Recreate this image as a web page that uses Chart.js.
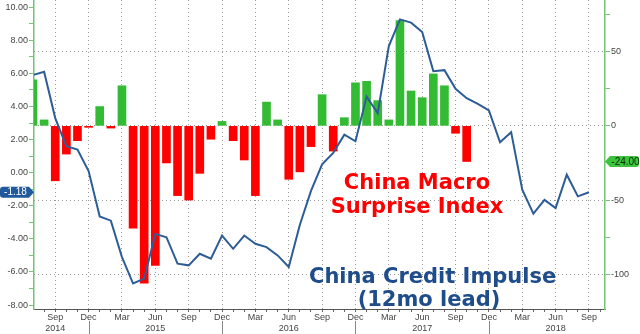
<!DOCTYPE html>
<html lang="en">
<head>
<meta charset="UTF-8">
<title>China Credit Impulse vs China Macro Surprise Index</title>
<style>
  body { margin: 0; background: #fff; }
  #wrap { position: relative; width: 640px; height: 334px; }
  .note {
    position: absolute;
    font-family: "DejaVu Sans", sans-serif;
    font-weight: bold;
    font-size: 21px;
    text-align: center;
    white-space: nowrap;
    pointer-events: none;
  }
  .macro { color: #ff0000; left: 317px; top: 170px; width: 200px; line-height: 24px; }
  .credit { color: #1f4c8a; left: 309px; top: 265px; width: 240px; line-height: 23px; }
</style>
</head>
<body>
<div id="wrap">
  <canvas id="chart"></canvas>
  <div class="note macro">China Macro<br>Surprise Index</div>
  <div class="note credit">China Credit Impulse<br>(12mo lead)</div>
</div>

<script src="https://cdn.jsdelivr.net/npm/chart.js"></script>
<script>
// monthly axis, Jul 2014 .. Oct 2018
const months = [
  "Jul 2014", "Aug 2014", "Sep 2014", "Oct 2014", "Nov 2014", "Dec 2014",
  "Jan 2015", "Feb 2015", "Mar 2015", "Apr 2015", "May 2015", "Jun 2015",
  "Jul 2015", "Aug 2015", "Sep 2015", "Oct 2015", "Nov 2015", "Dec 2015",
  "Jan 2016", "Feb 2016", "Mar 2016", "Apr 2016", "May 2016", "Jun 2016",
  "Jul 2016", "Aug 2016", "Sep 2016", "Oct 2016", "Nov 2016", "Dec 2016",
  "Jan 2017", "Feb 2017", "Mar 2017", "Apr 2017", "May 2017", "Jun 2017",
  "Jul 2017", "Aug 2017", "Sep 2017", "Oct 2017", "Nov 2017", "Dec 2017",
  "Jan 2018", "Feb 2018", "Mar 2018", "Apr 2018", "May 2018", "Jun 2018",
  "Jul 2018", "Aug 2018", "Sep 2018", "Oct 2018"
];

// China Macro Surprise Index (right axis), Jul 2014 .. Oct 2017
const surpriseIndex = [
  31, 4, -37, -19, -10, -1,
  13, -1.5, 27, -69, -106, -94,
  -25, -47, -50, -32, -9, 3,
  -10, -23, -47, 16, 4, -36,
  -31, -14, 21, -17, 5.5, 29,
  30, 17, 4, 71, 23.5, 19,
  35, 27, -5, -24
];

// China Credit Impulse, 12mo lead (left axis), Jul 2014 .. Sep 2018
const creditImpulse = [
  5.9, 6.1, 3.3, 1.6, 1.4, 0.1,
  -2.65, -2.9, -5.1, -6.7, -6.4, -3.7,
  -3.9, -5.5, -5.6, -4.9, -5.2, -3.8,
  -4.6, -3.8, -4.3, -4.5, -5.0, -5.7,
  -3.15, -1.1, 0.5, 1.2, 2.3, 1.9,
  4.6, 3.6, 7.65, 9.27, 9.07, 8.5,
  6.14, 6.2, 5.07, 4.5, 4.16, 3.76,
  1.84, 2.45, -1.03, -2.48, -1.64, -2.14,
  -0.12, -1.43, -1.18
];

const leftTicks = [-8, -6, -4, -2, 0, 2, 4, 6, 8, 10];
const leftMinor = [-7, -5, -3, -1, 1, 3, 5, 7, 9];
const rightTicks = [-100, -50, 0, 50];
const rightMinor = [-75, -25, 25, 75];
const quarterMonths = ["Sep", "Dec", "Mar", "Jun"];
const yearLabels = {
  "Sep 2014": "2014", "Jun 2015": "2015", "Jun 2016": "2016",
  "Jun 2017": "2017", "Jun 2018": "2018"
};

const GREEN = "#33bb33";
const RED = "#ff0000";
const LINE = "#2d5d96";
const AXIS_GREEN = "#74c474";
const GRID = "#9a9a9a";
const TICK_FONT = { family: "Liberation Sans", size: 9, lineHeight: 1.2 };

function isQuarter(i) {
  const m = months[i];
  return m !== undefined && quarterMonths.includes(m.slice(0, 3));
}

// little price-tag boxes for the last values
function drawTag(ctx, side, y, text, bg, fg, area) {
  const h = 11, r = 3;
  let x0, x1, tip;
  if (side === "left") { x0 = 0; x1 = area.left - 5; tip = area.left; }
  else { x0 = area.right + 5; x1 = 639; tip = area.right; }
  ctx.fillStyle = bg;
  ctx.beginPath();
  if (side === "left") {
    ctx.moveTo(x0 + r, y - h / 2);
    ctx.lineTo(x1, y - h / 2);
    ctx.lineTo(tip, y);
    ctx.lineTo(x1, y + h / 2);
    ctx.lineTo(x0 + r, y + h / 2);
    ctx.arcTo(x0, y + h / 2, x0, y, r);
    ctx.arcTo(x0, y - h / 2, x0 + r, y - h / 2, r);
  } else {
    ctx.moveTo(tip, y);
    ctx.lineTo(x0, y - h / 2);
    ctx.lineTo(x1 - r, y - h / 2);
    ctx.arcTo(x1, y - h / 2, x1, y, r);
    ctx.arcTo(x1, y + h / 2, x1 - r, y + h / 2, r);
    ctx.lineTo(x0, y + h / 2);
  }
  ctx.closePath();
  ctx.fill();
  ctx.fillStyle = fg;
  ctx.font = "10px 'Liberation Sans'";
  ctx.textAlign = "center";
  ctx.textBaseline = "middle";
  ctx.fillText(text, (x0 + x1) / 2 + 1, y + 0.5);
}

const extras = {
  id: "extras",
  afterDraw(chart) {
    const ctx = chart.ctx;
    const area = chart.chartArea;
    const x = chart.scales.x;
    ctx.save();
    // year separators under the Dec labels
    ctx.strokeStyle = "#888";
    ctx.lineWidth = 1;
    months.forEach((m, i) => {
      if (m.startsWith("Dec")) {
        const px = Math.round(x.getPixelForValue(i)) + 0.5;
        ctx.beginPath();
        ctx.moveTo(px, area.bottom + 12);
        ctx.lineTo(px, area.bottom + 25);
        ctx.stroke();
      }
    });
    const lastL = creditImpulse[creditImpulse.length - 1];
    const lastR = surpriseIndex[surpriseIndex.length - 1];
    drawTag(ctx, "left", chart.scales.yL.getPixelForValue(lastL), lastL.toFixed(2), "#215a9c", "#ffffff", area);
    drawTag(ctx, "right", chart.scales.yR.getPixelForValue(lastR), lastR.toFixed(2), "#3cc43c", "#0d2a0d", area);
    ctx.restore();
  }
};

function fixWidth(w) {
  return (scale) => {
    scale.width = w;
    scale.paddingTop = 0;
    scale.paddingBottom = 0;
  };
}

new Chart(document.getElementById("chart"), {
  data: {
    datasets: [
      {
        type: "line",
        label: "China Credit Impulse (12mo lead)",
        data: creditImpulse.map((v, i) => ({ x: i, y: v })),
        yAxisID: "yL",
        borderColor: LINE,
        borderWidth: 2,
        pointRadius: 0,
        tension: 0,
        order: 0
      },
      {
        type: "bar",
        label: "China Macro Surprise Index",
        data: surpriseIndex.map((v, i) => ({ x: i, y: v })),
        yAxisID: "yR",
        backgroundColor: surpriseIndex.map(v => v >= 0 ? GREEN : RED),
        barThickness: 8,
        order: 1
      }
    ]
  },
  options: {
    responsive: true,
    maintainAspectRatio: false,
    animation: false,
    layout: { padding: 0 },
    plugins: {
      legend: { display: false },
      tooltip: { enabled: false }
    },
    scales: {
      x: {
        type: "linear",
        offset: false,
        min: 0.09,
        max: 51.44,
        afterBuildTicks: (scale) => {
          scale.ticks = months.map((m, i) => ({ value: i }))
            .filter(t => t.value >= scale.min && t.value <= scale.max);
        },
        afterFit: (scale) => {
          scale.height = 25;
          scale.paddingLeft = 0;
          scale.paddingRight = 0;
        },
        ticks: {
          autoSkip: false,
          maxRotation: 0,
          padding: 0,
          color: "#444",
          font: TICK_FONT,
          callback: (v) => {
            if (!isQuarter(v)) return "";
            const m = months[v];
            const yr = yearLabels[m];
            return yr ? [m.slice(0, 3), yr] : m.slice(0, 3);
          }
        },
        grid: {
          offset: false,
          color: (c) => isQuarter(c.tick && c.tick.value) ? GRID : "transparent",
          lineWidth: 1,
          tickColor: "#666",
          tickLength: 3
        },
        border: { color: "#555", width: 1, dash: [1, 3] }
      },
      yL: {
        axis: "y",
        position: "left",
        min: -8.24,
        max: 10.44,
        afterBuildTicks: (scale) => {
          scale.ticks = leftTicks.concat(leftMinor).sort((a, b) => a - b).map(v => ({ value: v }));
        },
        afterFit: fixWidth(34),
        ticks: {
          autoSkip: false,
          padding: 1,
          color: "#444",
          font: TICK_FONT,
          callback: (v) => leftTicks.includes(v) ? v.toFixed(2) : ""
        },
        grid: {
          drawOnChartArea: false,
          tickColor: AXIS_GREEN,
          tickLength: 5
        },
        border: { color: AXIS_GREEN, width: 1.5 }
      },
      yR: {
        axis: "y",
        position: "right",
        min: -123.4,
        max: 84.8,
        afterBuildTicks: (scale) => {
          scale.ticks = rightTicks.concat(rightMinor).sort((a, b) => a - b).map(v => ({ value: v }));
        },
        afterFit: fixWidth(35),
        ticks: {
          autoSkip: false,
          padding: 1,
          color: "#444",
          font: TICK_FONT,
          callback: (v) => rightTicks.includes(v) ? String(v) : ""
        },
        grid: {
          color: (c) => rightTicks.includes(c.tick && c.tick.value) ? GRID : "transparent",
          lineWidth: 1,
          tickColor: AXIS_GREEN,
          tickLength: 5
        },
        border: { color: AXIS_GREEN, width: 1.5, dash: [1, 3] }
      }
    }
  },
  plugins: [extras]
});
</script>
</body>
</html>
